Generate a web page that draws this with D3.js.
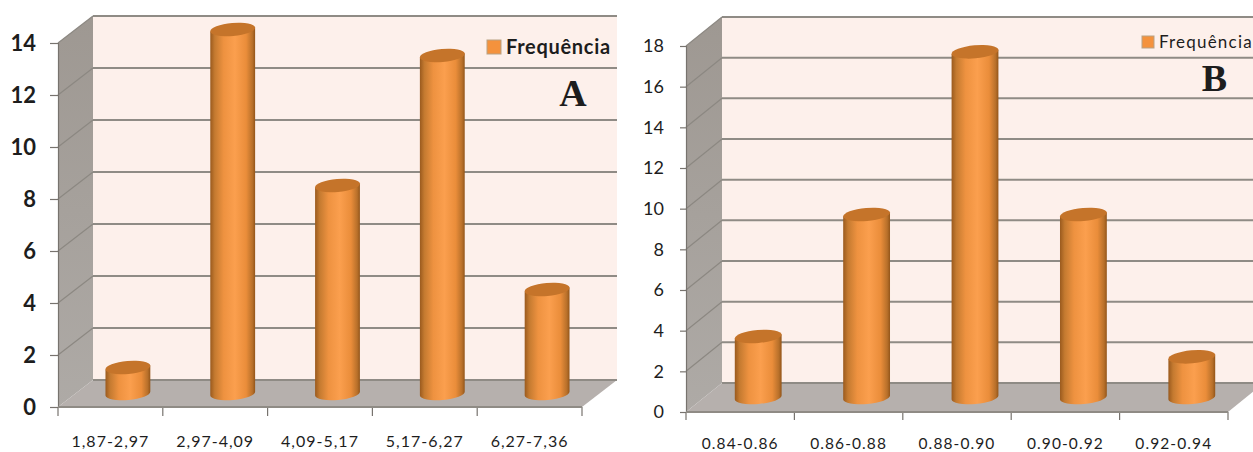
<!DOCTYPE html>
<html lang="pt">
<head>
<meta charset="utf-8">
<title>Frequência por classe</title>
<script src="https://cdn.jsdelivr.net/npm/d3@7/dist/d3.min.js"></script>
<style>
  html, body { margin: 0; padding: 0; background: #fff; }
  svg { display: block; }
  text { fill: #1d1d1d; }
</style>
</head>
<body>
<svg id="chart" width="1253" height="452"></svg>
<script>
// Class intervals and counts for the two histograms
const categoriesA = ["1,87-2,97", "2,97-4,09", "4,09-5,17", "5,17-6,27", "6,27-7,36"];
const valuesA = [1, 14, 8, 13, 4];
const ticksA = [0, 2, 4, 6, 8, 10, 12, 14];

const categoriesB = ["0.84-0.86", "0.86-0.88", "0.88-0.90", "0.90-0.92", "0.92-0.94"];
const valuesB = [3, 9, 17, 9, 2];
const ticksB = [0, 2, 4, 6, 8, 10, 12, 14, 16, 18];

const seriesName = "Frequência";

// Box geometry of each 3D panel: front edge, top of the axis and the depth offset
const panelA = {
  id: "a", categories: categoriesA, values: valuesA, ticks: ticksA,
  left: 58, right: 582, zero: 407, top: 43, dx: 35, dy: 27, limit: 617,
  rx: 22.5, yFont: 22, yPad: 14, yTick: 8, yWeight: 700, xFont: 16, xSpacing: 1, xLabelY: 447, xTick: 9,
  legend: { x: 487, y: 40, size: 14, font: 20, spacing: 0.7, weight: 700, gap: 5 },
  letter: { text: "A", x: 573, y: 106 }
};
const panelB = {
  id: "b", categories: categoriesB, values: valuesB, ticks: ticksB,
  left: 686, right: 1228, zero: 412, top: 46, dx: 36, dy: 29, limit: 1253,
  rx: 23.5, yFont: 18, yPad: 16, yTick: 6, yWeight: 400, xFont: 15.5, xSpacing: 1.1, xLabelY: 449, xTick: 8,
  legend: { x: 1142, y: 36, size: 12, font: 17, spacing: 1.2, weight: 400, gap: 5 },
  letter: { text: "B", x: 1214.5, y: 91 }
};

const svg = d3.select("#chart");
const defs = svg.append("defs");

// Cylinder shading, dark at both edges and bright just right of centre
const bodyGrad = defs.append("linearGradient").attr("id", "cylinder");
[[0, "#9a5a1e"], [0.1, "#c47a30"], [0.3, "#ee9240"], [0.55, "#fb9f4e"], [0.8, "#ea8d3a"], [0.94, "#b8702a"], [1, "#935519"]]
  .forEach(([o, c]) => bodyGrad.append("stop").attr("offset", o).attr("stop-color", c));

const wallGrad = defs.append("linearGradient").attr("id", "wall")
  .attr("x1", 0).attr("y1", 0).attr("x2", 0).attr("y2", 1);
wallGrad.append("stop").attr("offset", 0).attr("stop-color", "#9e9892");
wallGrad.append("stop").attr("offset", 1).attr("stop-color", "#aeaaa6");

const GRID = "#8f8b85";
const TILT = -5 * Math.PI / 180;

function drawPanel(p) {
  const g = svg.append("g").attr("class", "panel-" + p.id);

  const y = d3.scaleLinear()
    .domain([0, d3.max(p.ticks)])
    .range([p.zero, p.top]);
  const x = d3.scaleBand()
    .domain(p.categories)
    .range([p.left, p.right]);

  const backX = p.left + p.dx;
  const endX = Math.min(p.limit, p.right + p.dx);
  const line = d3.line();

  // Back wall, side wall and floor
  g.append("rect")
    .attr("x", backX).attr("y", y(d3.max(p.ticks)) - p.dy)
    .attr("width", endX - backX).attr("height", p.zero - p.top)
    .attr("fill", "#fdf0eb");
  g.append("path")
    .attr("d", line([[p.left, y(d3.max(p.ticks))], [backX, y(d3.max(p.ticks)) - p.dy], [backX, p.zero - p.dy], [p.left, p.zero]]) + "Z")
    .attr("fill", "url(#wall)");
  g.append("path")
    .attr("d", line([[p.left, p.zero], [backX, p.zero - p.dy], [p.right + p.dx, p.zero - p.dy], [p.right, p.zero]]) + "Z")
    .attr("fill", "#b6b0ad");

  // Gridlines run across the back wall and fold down the side wall
  const gridG = g.append("g").attr("fill", "none").attr("stroke", GRID);
  gridG.selectAll("path.back").data(p.ticks).join("path")
    .attr("class", "back")
    .attr("stroke-width", 2)
    .attr("d", t => line([[backX, y(t) - p.dy], [t === 0 ? p.right + p.dx : endX, y(t) - p.dy]]));
  gridG.selectAll("path.side").data(p.ticks.slice(1)).join("path")
    .attr("class", "side")
    .attr("stroke-width", 1.2)
    .attr("stroke", "#8c8882")
    .attr("d", t => line([[p.left, y(t)], [backX, y(t) - p.dy]]));

  // Value axis on the front-left edge
  const yAxis = g.append("g")
    .attr("transform", `translate(${p.left},0)`)
    .call(d3.axisLeft(y).tickValues(p.ticks).tickSize(p.yTick).tickPadding(p.yPad).tickFormat(d3.format("d")));
  yAxis.select(".domain").attr("stroke", "#77736e").attr("stroke-width", 1.2);
  yAxis.selectAll(".tick line").attr("stroke", "#77736e").attr("stroke-width", 1.2);
  yAxis.selectAll("text")
    .style("font-family", "Lato, sans-serif")
    .style("font-weight", p.yWeight)
    .style("font-size", p.yFont + "px");

  // Category axis on the front edge, with ticks at the band boundaries
  const bounds = p.categories.map(c => x(c)).concat(p.right);
  const xTicks = g.append("g");
  xTicks.selectAll("line").data(bounds).join("line")
    .attr("x1", d => d).attr("x2", d => d)
    .attr("y1", p.zero).attr("y2", p.zero + p.xTick)
    .attr("stroke", "#77736e").attr("stroke-width", 1.2);
  xTicks.append("path")
    .attr("d", line([[p.left, p.zero], [p.right, p.zero]]))
    .attr("stroke", GRID).attr("stroke-width", 2);
  xTicks.selectAll("text").data(p.categories).join("text")
    .attr("x", c => x(c) + x.bandwidth() / 2)
    .attr("y", p.xLabelY)
    .attr("text-anchor", "middle")
    .style("font-family", "Lato, sans-serif")
    .style("font-size", p.xFont + "px")
    .style("letter-spacing", p.xSpacing + "px")
    .text(c => c);

  // Cylinders stand halfway back along the floor
  const rows = p.categories.map((c, i) => ({
    cat: c,
    cx: x(c) + x.bandwidth() / 2 + p.dx / 2,
    base: y(0) - p.dy / 2,
    top: y(p.values[i]) - p.dy / 2
  }));
  const ry = 6.5;
  const ex = p.rx * Math.cos(TILT);
  const ey = p.rx * Math.sin(TILT);
  const rot = TILT * 180 / Math.PI;

  const bars = g.append("g").selectAll("g").data(rows).join("g");
  bars.append("path")
    .attr("fill", "url(#cylinder)")
    .attr("d", d =>
      `M${d.cx - ex},${d.top - ey}` +
      `L${d.cx - ex},${d.base - ey}` +
      `A${p.rx},${ry} ${rot} 0 0 ${d.cx + ex},${d.base + ey}` +
      `L${d.cx + ex},${d.top + ey}Z`);
  bars.append("ellipse")
    .attr("rx", p.rx).attr("ry", ry)
    .attr("transform", d => `translate(${d.cx},${d.top}) rotate(${rot})`)
    .attr("fill", "#c5742a");

  // Legend
  const lg = g.append("g");
  lg.append("rect")
    .attr("x", p.legend.x).attr("y", p.legend.y)
    .attr("width", p.legend.size).attr("height", p.legend.size)
    .attr("fill", "#f4923d").attr("stroke", "#b9a184").attr("stroke-width", 1);
  lg.append("text")
    .attr("x", p.legend.x + p.legend.size + p.legend.gap)
    .attr("y", p.legend.y + p.legend.size / 2)
    .attr("dy", "0.36em")
    .style("font-family", "Lato, sans-serif")
    .style("font-size", p.legend.font + "px")
    .style("font-weight", p.legend.weight)
    .style("letter-spacing", p.legend.spacing + "px")
    .text(seriesName);

  // Panel letter
  g.append("text")
    .attr("x", p.letter.x).attr("y", p.letter.y)
    .attr("text-anchor", "middle")
    .style("font-family", "'Liberation Serif', serif")
    .style("font-weight", 700)
    .style("font-size", "38px")
    .text(p.letter.text);
}

drawPanel(panelA);
drawPanel(panelB);
</script>
</body>
</html>
